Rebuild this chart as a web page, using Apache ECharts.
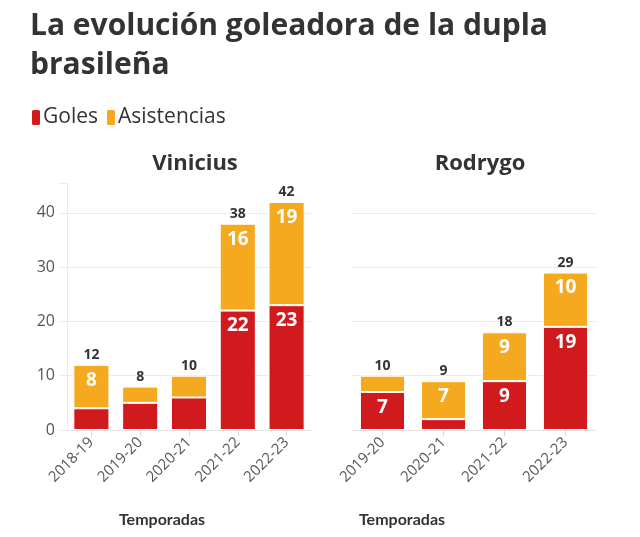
<!DOCTYPE html>
<html><head><meta charset="utf-8">
<script src="https://cdn.jsdelivr.net/npm/echarts@6/dist/echarts.min.js"></script>
<style>html,body{margin:0;padding:0;background:#fff}#c{width:640px;height:537px}</style>
</head><body><div id="c"></div>
<script>
var viniSeasons = ['2018-19','2019-20','2020-21','2021-22','2022-23'];
var viniGoles = [4,5,6,22,23];
var viniAsist = [8,3,4,16,19];
var rodSeasons = ['2019-20','2020-21','2021-22','2022-23'];
var rodGoles = [7,2,9,19];
var rodAsist = [3,7,9,10];
var yTicks = [0,10,20,30,40];

var RED = '#d01a1e', ORANGE = '#f5a91f', FONT = 'Open Sans', LFONT = 'Lato';
function totals(a,b){return a.map(function(v,i){return v+b[i];});}
var inLabel = {show:true, position:'insideTop', distance:6, color:'#fff', fontWeight:'bold', fontSize:19, fontFamily:FONT,
  formatter:function(p){return p.value>=7?p.value:'';}};
function mk(name, data, color, idx){
  return {name:name, type:'bar', stack:'s'+idx, xAxisIndex:idx, yAxisIndex:idx, data:data, barCategoryGap:'26%',
    itemStyle:{color:color, borderColor:'#fff', borderWidth:1}, label:inLabel};
}
function tot(t, idx){
  return {name:'Total', type:'bar', stack:'s'+idx, xAxisIndex:idx, yAxisIndex:idx,
    data:t.map(function(){return 0;}), itemStyle:{color:'transparent'},
    label:{show:true, position:'top', distance:3, color:'#333', fontWeight:'bold', fontSize:14, fontFamily:FONT,
      formatter:function(p){return t[p.dataIndex];}}};
}
var gridCol = ['#ebebeb','#ebebeb','#ebebeb','#ebebeb','#ebebeb','transparent'];
function yAx(idx, showLabels){
  return {type:'value', gridIndex:idx, min:0, max:45.5, interval:10,
    axisLine:{show:showLabels, lineStyle:{color:'#ebebeb'}},
    axisTick:{show:showLabels, length:8, lineStyle:{color:'#ebebeb'}},
    axisLabel:{show:showLabels, color:'#555', fontSize:16, fontFamily:FONT, margin:12,
      formatter:function(v){return yTicks.indexOf(v)>=0?v:'';}},
    splitLine:{show:true, lineStyle:{color:gridCol}}};
}
function xAx(idx, cats){
  return {type:'category', gridIndex:idx, data:cats,
    axisLine:{show:true, lineStyle:{color:'#e4e4e4'}},
    axisTick:{show:true, alignWithLabel:true, length:6, lineStyle:{color:'#d8d8d8'}},
    axisLabel:{rotate:45, color:'#555', fontSize:15, fontFamily:FONT, margin:10}};
}
var chart = echarts.init(document.getElementById('c'));
chart.setOption({
  backgroundColor:'#fff',
  animation:false,
  title:[
    {text:'La evolución goleadora de la dupla\nbrasileña', left:30, top:7, padding:0,
     textStyle:{fontFamily:FONT, fontWeight:'bold', fontSize:30, lineHeight:39, color:'#333'}},
    {text:'Vinicius', left:195, top:153, textAlign:'center', padding:0,
     textStyle:{fontFamily:FONT, fontWeight:'bold', fontSize:22, color:'#333'}},
    {text:'Rodrygo', left:480, top:153, textAlign:'center', padding:0,
     textStyle:{fontFamily:FONT, fontWeight:'bold', fontSize:22, color:'#333'}},
    {text:'Temporadas', left:162, top:512, textAlign:'center', padding:0,
     textStyle:{fontFamily:LFONT, fontWeight:'bold', fontSize:16, color:'#333'}},
    {text:'Temporadas', left:402, top:512, textAlign:'center', padding:0,
     textStyle:{fontFamily:LFONT, fontWeight:'bold', fontSize:16, color:'#333'}}
  ],
  legend:{data:['Goles','Asistencias'], left:30, top:107, padding:0, icon:'roundRect', itemWidth:10, itemHeight:17, itemGap:7,
    textStyle:{fontFamily:FONT, fontSize:21, color:'#333', padding:[0,0,0,-3]}},
  grid:[
    {left:67, right:329, top:183, bottom:107},
    {left:352, right:44, top:183, bottom:107}
  ],
  xAxis:[xAx(0, viniSeasons), xAx(1, rodSeasons)],
  yAxis:[yAx(0,true), yAx(1,false)],
  series:[
    mk('Goles', viniGoles, RED, 0), mk('Asistencias', viniAsist, ORANGE, 0), tot(totals(viniGoles,viniAsist),0),
    mk('Goles', rodGoles, RED, 1), mk('Asistencias', rodAsist, ORANGE, 1), tot(totals(rodGoles,rodAsist),1)
  ]
});
</script></body></html>
